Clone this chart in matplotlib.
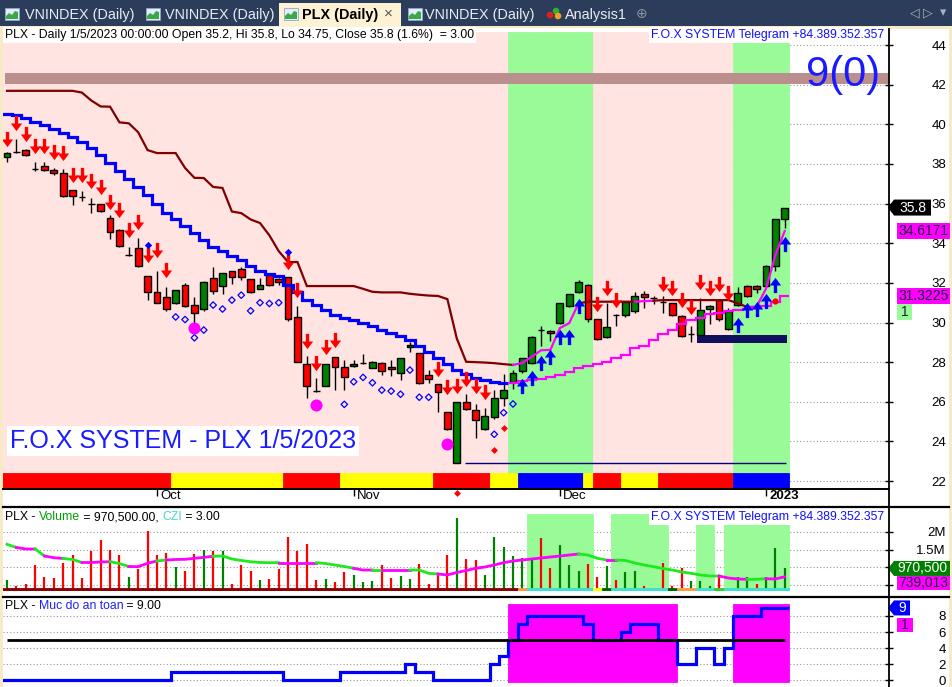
#!/usr/bin/env python3
import numpy as np
import matplotlib
matplotlib.use("Agg")
import matplotlib.pyplot as plt
from matplotlib.patches import Rectangle, Polygon, Circle
from matplotlib.transforms import ScaledTranslation

### setup ###
plt.rcParams["font.family"] = ["Liberation Sans", "DejaVu Sans"]
W, H = 952, 687

### data : PLX daily, 84 sessions up to 1/5/2023 ###
opens = [38.35, 38.62, 38.70, 37.73, 37.90, 37.69, 37.53, 36.68, 36.35, 36.00,
         35.98, 35.29, 34.67, 33.42, 33.74, 32.35, 31.52, 31.30, 31.00, 31.90,
         30.88, 30.67, 32.24, 31.86, 32.58, 32.68, 32.18, 31.71, 32.38, 32.20,
         32.28, 30.26, 27.89, 26.56, 26.81, 28.24, 27.77, 27.80, 27.96, 27.72,
         27.97, 27.77, 27.46, 28.75, 28.44, 27.35, 26.88, 25.47, 22.90, 25.97,
         25.57, 24.61, 25.25, 26.17, 27.00, 27.55, 27.94, 29.60, 29.57, 29.96,
         30.85, 31.56, 31.89, 30.16, 29.26, 30.40, 30.37, 30.57, 31.46, 31.25,
         31.05, 30.97, 30.34, 29.42, 29.37, 30.67, 31.13, 29.65, 30.88, 31.86,
         31.86, 31.84, 32.85, 35.20]
closes = [38.55, 38.62, 38.45, 37.73, 37.70, 37.53, 36.40, 36.40, 36.35, 36.00,
          35.64, 34.58, 33.87, 33.42, 32.86, 31.52, 30.97, 30.67, 31.64, 30.83,
          30.48, 32.06, 31.60, 32.48, 32.28, 32.28, 31.52, 31.88, 31.88, 32.06,
          30.16, 28.02, 26.81, 26.56, 27.89, 27.77, 27.26, 27.90, 27.96, 28.02,
          27.57, 27.63, 28.19, 28.86, 26.93, 27.13, 26.48, 24.61, 25.97, 25.62,
          25.08, 25.29, 26.17, 26.62, 27.44, 28.19, 29.28, 29.60, 29.47, 30.97,
          31.42, 32.02, 30.16, 29.15, 29.76, 30.40, 31.04, 31.34, 31.30, 31.25,
          31.05, 30.38, 29.31, 29.42, 30.62, 30.85, 30.16, 30.58, 31.47, 31.34,
          31.68, 32.86, 35.20, 35.80]
highs = [38.60, 39.25, 38.75, 38.08, 38.10, 37.78, 37.75, 36.70, 36.63, 36.30,
         36.00, 35.45, 34.70, 33.80, 34.25, 32.35, 32.60, 31.80, 31.66, 32.00,
         31.30, 32.10, 32.82, 32.50, 32.62, 32.82, 32.20, 32.24, 32.48, 32.25,
         32.30, 30.83, 28.30, 27.18, 27.92, 28.26, 28.10, 28.10, 28.40, 28.05,
         28.00, 28.10, 28.20, 29.04, 28.46, 27.60, 26.90, 25.50, 26.00, 26.39,
         25.90, 25.70, 26.60, 27.40, 27.60, 28.22, 29.30, 29.80, 29.60, 31.00,
         31.45, 32.17, 31.92, 30.20, 30.97, 30.42, 31.06, 31.54, 31.60, 31.33,
         31.33, 31.00, 30.36, 29.82, 31.25, 30.90, 31.15, 30.75, 31.80, 31.88,
         31.90, 32.90, 35.22, 35.80]
lows = [38.10, 38.55, 38.42, 37.66, 37.65, 37.45, 36.35, 35.93, 36.14, 35.51,
        35.58, 34.23, 33.80, 33.35, 32.80, 31.13, 30.97, 30.60, 30.95, 30.80,
        29.96, 30.60, 31.43, 31.45, 31.94, 32.15, 31.50, 31.68, 31.85, 31.90,
        30.10, 28.00, 26.18, 26.50, 26.78, 26.62, 26.57, 27.78, 27.90, 27.70,
        27.35, 27.30, 27.10, 28.50, 26.90, 26.97, 25.50, 24.58, 22.90, 25.60,
        24.16, 24.58, 25.15, 25.78, 26.67, 27.46, 27.90, 28.80, 29.05, 29.90,
        30.80, 31.50, 30.05, 29.10, 29.20, 29.80, 30.30, 30.50, 30.75, 30.93,
        30.49, 30.35, 29.28, 29.03, 29.35, 29.90, 30.10, 29.60, 30.85, 31.30,
        31.48, 31.80, 32.62, 34.75]

# upper trailing line, flag 0 = dark red, 1 = magenta
upper_stop = [41.69, 41.69, 41.69, 41.69, 41.69, 41.69, 41.69, 41.69, 41.60, 41.20,
              40.90, 40.89, 40.10, 40.05, 39.60, 38.70, 38.55, 38.55, 38.55, 37.80,
              37.30, 37.29, 36.84, 36.79, 35.60, 35.52, 35.20, 35.02, 34.40, 33.60,
              33.05, 33.05, 31.84, 31.84, 31.84, 31.84, 31.84, 31.84, 31.70, 31.55,
              31.52, 31.52, 31.52, 31.45, 31.40, 31.36, 31.34, 31.18, 29.20, 28.02,
              28.00, 27.98, 27.95, 27.90, 27.86, 27.96, 28.27, 28.60, 28.62, 29.72,
              29.97, 30.97, 31.05, 31.05, 31.05, 31.05, 31.05, 31.05, 31.08, 31.10,
              31.13, 31.13, 31.13, 31.13, 31.13, 31.13, 31.13, 31.13, 30.97, 30.78,
              30.80, 31.70, 33.40, 34.6171]
upper_flag = "0" * 55 + "1" * 7 + "0" * 6 + "1" * 2 + "0" * 10 + "1" * 4

# lower trailing line, blue first then magenta
lower_stop = [40.54, 40.47, 40.32, 40.11, 39.96, 39.76, 39.56, 39.36, 39.11, 38.80,
              38.45, 38.05, 37.64, 37.24, 36.84, 36.43, 35.98, 35.52, 35.22, 34.87,
              34.51, 34.16, 33.81, 33.61, 33.35, 33.15, 32.85, 32.60, 32.45, 32.35,
              31.89, 31.54, 31.13, 30.88, 30.63, 30.38, 30.23, 30.13, 29.97, 29.82,
              29.62, 29.47, 29.32, 29.12, 28.81, 28.51, 28.21, 27.91, 27.60, 27.40,
              27.20, 27.10, 27.00, 26.95, 26.95, 27.05, 27.10, 27.15, 27.25, 27.35,
              27.50, 27.70, 27.80, 27.90, 28.00, 28.21, 28.36, 28.71, 28.81, 29.12,
              29.42, 29.62, 29.92, 30.13, 30.23, 30.43, 30.48, 30.58, 30.63, 30.68,
              30.73, 30.83, 31.03, 31.3225]
lower_blue_n = 54

# signals
sell_idx = [0, 1, 2, 3, 4, 5, 6, 7, 8, 9, 10, 11, 12, 13, 14, 15, 16, 17,
            30, 31, 32, 33, 34, 35, 46, 47, 48, 49, 50, 51,
            63, 64, 65, 70, 71, 72, 73, 74, 75, 76, 77]
sell_px = [39.28, 40.09, 39.53, 38.90, 38.90, 38.60, 38.53, 37.42, 37.42, 37.16,
           36.84, 36.10, 35.68, 34.67, 35.07, 33.40, 33.66, 32.65,
           33.03, 31.64, 29.09, 27.98, 28.76, 29.12, 27.65, 26.77, 26.82, 27.15, 26.82, 26.47,
           30.91, 31.74, 31.16, 31.92, 31.76, 31.13, 30.76, 32.04, 31.74, 31.92, 31.51]
buy_idx = [55, 56, 57, 58, 59, 60, 61, 78, 79, 80, 81, 82, 83]
buy_px = [26.80, 27.20, 27.96, 28.26, 29.27, 29.27, 30.81, 29.87, 30.63, 30.66, 31.11, 31.87, 33.98]
hollow_idx = [18, 19, 20, 21, 22, 23, 24, 25, 26, 27, 28, 29,
              36, 37, 38, 39, 40, 41, 42, 43, 44, 45, 52, 53, 54]
hollow_px = [30.28, 30.15, 29.23, 29.62, 30.88, 30.68, 31.13, 31.38, 30.59, 31.00, 30.96, 31.00,
             25.87, 27.01, 27.23, 26.96, 26.59, 26.54, 26.38, 27.60, 26.23, 26.23, 24.36, 25.45, 25.89]
blue_dot_idx = [15, 30]
blue_dot_px = [33.91, 33.57]
big_dot_idx = [20, 33, 47]
big_dot_px = [29.72, 25.84, 23.87]
red_mark_idx = [52, 53, 48]
red_mark_px = [23.57, 24.69, 21.40]
red_dot_idx = [82]
red_dot_px = [31.08]

zones = "P" * 54 + "G" * 9 + "P" * 15 + "G" * 6
trend = "R" * 18 + "Y" * 12 + "R" * 6 + "Y" * 10 + "R" * 6 + "Y" * 3 + "B" * 7 + "Y" + "R" * 3 + "Y" * 4 + "R" * 8 + "B" * 6
top_band = (42.03, 42.59)
support_px = 22.91
box_lo, box_hi, box_from = 28.98, 29.37, 74

price_ticks = list(range(22, 45, 2))
month_idx = [16, 37, 59, 81]
month_lbl = ["Oct", "Nov", "Dec", "2023"]

# volume pane (thousand shares)
volume = [648, 480, 536, 1067, 723, 696, 1131, 1346, 696, 1458,
          1765, 1486, 1346, 723, 947, 2017, 1346, 1411, 1003, 899,
          1374, 1486, 1458, 1458, 536, 1067, 899, 648, 668, 955,
          1858, 1458, 1654, 648, 668, 601, 880, 788, 601, 628,
          1067, 696, 760, 668, 1095, 536, 816, 1346, 2372, 1235,
          1207, 788, 1858, 1561, 1318, 1271, 1207, 1813, 975, 1626,
          1067, 899, 1095, 723, 1039, 648, 880, 899, 480, 388,
          1115, 480, 992, 620, 620, 480, 740, 416, 740, 740,
          536, 740, 1534, 970.5]
vol_dir = ("GRRRRRRRRR" "RRRGRRRRGR" "RGRGRRRGRR" "RRRRGRRGGG" "RRGGRRRRGR"
           "RGGGGGGRRG" "GGRRGRGGRR" "RRRGGGRGGG" "RGGG")
vol_ma = [1645, 1556, 1514, 1514, 1318, 1271, 1249, 1221, 1137, 1137,
          1151, 1159, 1109, 1025, 1020, 1115, 1179, 1207, 1221, 1226,
          1254, 1282, 1310, 1318, 1235, 1193, 1159, 1137, 1131, 1131,
          1131, 1131, 1131, 1131, 1109, 1067, 1025, 975, 927, 927,
          927, 927, 927, 927, 927, 835, 816, 788, 858, 913,
          975, 1011, 1067, 1131, 1179, 1207, 1235, 1263, 1291, 1318,
          1346, 1374, 1346, 1254, 1207, 1207, 1193, 1123, 1067, 1020,
          969, 927, 872, 835, 788, 760, 760, 704, 676, 668,
          668, 684, 676, 739.013]
vol_ma_flag = ("GGMMGMMGGM" "MMGGMMMGMM" "MMMGGGGGGG" "MMMMGGGGMM" "GMMMGGGMMM"
               "MMMMMMMMMM" "MMGGGMGGGG" "GGGGGGGMMM" "GGMM")
czi = "D" * 55 + "O" + "T" * 7 + "Y" + "K" + "T" * 6 + "K" + "O" * 2 + "T" * 2 + "L" + "T" * 7
czi_zone_top = [2490 if i < 72 else 2210 for i in range(84)]
vol_ticks = [500, 1000, 1500, 2000]
vol_lbl = ["", "", "1.5M", "2M"]

# safety pane ("Muc do an toan")
safety = ([0] * 18 + [1] * 12 + [0] * 6 + [1] * 7 + [2] + [1] * 2 + [0] * 6 +
          [2, 3, 5, 7] + [8] * 6 + [7] + [5] * 3 + [6] + [7] * 3 + [5] * 2 +
          [2] * 2 + [4] * 2 + [2, 4] + [8] * 3 + [9] * 3)
safe_zone = "N" * 54 + "M" * 18 + "N" * 6 + "M" * 6
safe_level = 5
safe_ticks = [0, 2, 4, 6, 8]

n = len(closes)
idx = np.arange(n)
edges = np.arange(n + 1) - 0.5

RED, GRN, BLU, MAG, DKRED = "#ff0000", "#008000", "#0000ff", "#ff00ff", "#800000"
XL = (-0.427, 94.13)

fig = plt.figure(figsize=(W / 100, H / 100), dpi=100)
fig.patch.set_facecolor("white")


def pane(x0, y0, x1, y1, z=2):
    a = fig.add_axes([x0 / W, 1 - y1 / H, (x1 - x0) / W, (y1 - y0) / H], zorder=z)
    for s in a.spines.values():
        s.set_visible(False)
    a.set_xlim(*XL)
    return a


def right_axis(a, ticks, labels):
    a.set_yticks(ticks)
    a.set_yticklabels(labels)
    a.yaxis.tick_right()
    a.tick_params(axis="y", direction="inout", length=6, width=1, pad=38, labelsize=9.5)
    for t in a.get_yticklabels():
        t.set_horizontalalignment("right")
    for t in ticks:
        a.axhline(t, color="#9a9a9a", lw=0.8, ls=(0, (1, 2)), zorder=0.5)


def draw_runs(a, y, flags, colors, lw, z):
    seg = [flags[i + 1] for i in range(len(y) - 1)]
    start = 0
    for i in range(1, len(seg) + 1):
        if i == len(seg) or seg[i] != seg[start]:
            a.plot(idx[start:i + 1], y[start:i + 1], color=colors[seg[start]], lw=lw,
                   zorder=z, solid_joinstyle="miter")
            start = i


### background / tabs ###
bg = fig.add_axes([0, 0, 1, 1], zorder=0)
bg.set_xlim(0, W); bg.set_ylim(H, 0); bg.axis("off")
bg.add_patch(Rectangle((0, 0), W, 27, fc="#2c3c5b", ec="none"))
bg.add_patch(Rectangle((0, 26), W, 3, fc="#f7eac6", ec="none"))
bg.add_patch(Rectangle((0, 26), 3, H, fc="#f7eac6", ec="none"))
bg.add_patch(Rectangle((949, 26), 3, H, fc="#f7eac6", ec="none"))
bg.add_patch(Rectangle((279, 3), 122, 25, fc="#fdf2d4", ec="none"))


def tab_icon(x):
    bg.add_patch(Rectangle((x, 8), 14, 12, fc="#e4eefa", ec="#8fa6c9", lw=0.6))
    bg.add_patch(Polygon([(x + 1, 19), (x + 1, 16), (x + 4, 13), (x + 7, 15), (x + 10, 11),
                          (x + 13, 12), (x + 13, 19)], fc="#3aa845", ec="none"))


tabs = [(5, 25, "VNINDEX (Daily)"), (146, 165, "VNINDEX (Daily)"), (408, 425, "VNINDEX (Daily)")]
for ix, tx, s in tabs:
    tab_icon(ix)
    bg.text(tx, 15, s, color="#e8ecf3", fontsize=10.4, va="center")
tab_icon(284)
bg.text(302, 15, "PLX (Daily)", color="black", fontsize=10.4, fontweight="bold", va="center")
bg.text(388, 14, "×", color="#555555", fontsize=11, va="center", ha="center")
for cx, cy, c in [(550, 15, "#e02020"), (556, 11, "#30b030"), (558, 16, "#f0a020")]:
    bg.add_patch(Circle((cx, cy), 3.3, fc=c, ec="none"))
bg.text(565, 15, "Analysis1", color="#e8ecf3", fontsize=10.4, va="center")
bg.text(642, 14, "⊕", color="#8a93a6", fontsize=10, va="center", ha="center", family="DejaVu Sans")
for x, s in [(915, "◁"), (928, "▷"), (943, "▾")]:
    bg.text(x, 13, s, color="#aab2c2", fontsize=9, va="center", ha="center", family="DejaVu Sans")

### price pane ###
ax = pane(3, 28, 889, 489)
ax.set_ylim(21.60, 44.86)
right_axis(ax, price_ticks, [str(t) for t in price_ticks])
zone_col = {"P": "#ffe4e1", "G": "#98fb98"}
zc = [zone_col[z] for z in zones]
ax.bar(idx, 44.66 - 21.60, bottom=21.60, width=1.0, color=zc, edgecolor=zc, lw=0.6, zorder=1)
ax.axhspan(*top_band, xmin=0.002, color="#bc8f8f", zorder=2, lw=0)
trend_col = {"R": RED, "Y": "#ffff00", "B": BLU}
tc = [trend_col[t] for t in trend]
ax.bar(idx, 22.41 - 21.60, bottom=21.60, width=1.0, color=tc, edgecolor=tc, lw=0.6, zorder=2)

ax.hlines(support_px, int(np.argmin(lows)) + 0.9, n - 0.9, color="#000080", lw=1, zorder=3)
ax.fill_between([box_from - 0.4, n - 0.8], box_lo, box_hi, color="#10105e", lw=0, zorder=3)

ax.vlines(idx, lows, highs, color="black", lw=1.0, zorder=4)
o, c = np.array(opens), np.array(closes)
body_col = [GRN if cc > oo else (RED if cc < oo else "black") for oo, cc in zip(o, c)]
ax.bar(idx, np.abs(c - o), bottom=np.minimum(o, c), width=0.72, color=body_col,
       edgecolor="black", lw=1.0, zorder=5)

draw_runs(ax, upper_stop, upper_flag, {"0": DKRED, "1": MAG}, 1.6, 6)
ax.stairs(lower_stop[:lower_blue_n], edges[:lower_blue_n + 1], baseline=None, color=BLU, lw=2.3, zorder=6)
ax.stairs(lower_stop[lower_blue_n:], edges[lower_blue_n:], baseline=None, color=MAG, lw=1.6, zorder=6)

down_arrow = [(-0.11, 0.5), (0.11, 0.5), (0.11, 0.0), (0.37, 0.0), (0.0, -0.5), (-0.37, 0.0), (-0.11, 0.0)]
up_arrow = [(x, -y) for x, y in down_arrow]
ax.scatter(sell_idx, sell_px, marker=down_arrow, s=120, c=RED, linewidths=0, zorder=7)
ax.scatter(buy_idx, buy_px, marker=up_arrow, s=120, c=BLU, linewidths=0, zorder=7)
ax.scatter(hollow_idx, hollow_px, marker="D", s=11, facecolors="none", edgecolors=BLU, linewidths=0.9, zorder=7)
ax.scatter(blue_dot_idx, blue_dot_px, marker="D", s=14, c=BLU, linewidths=0, zorder=7)
ax.scatter(big_dot_idx, big_dot_px, marker="o", s=75, c=MAG, linewidths=0, zorder=7)
ax.scatter(red_mark_idx, red_mark_px, marker="D", s=12, c=RED, linewidths=0, zorder=7, clip_on=False)
ax.scatter(red_dot_idx, red_dot_px, marker="o", s=20, c=RED, linewidths=0, zorder=7)

ax.set_xticks(month_idx, month_lbl)
ax.tick_params(axis="x", direction="out", length=5, width=1, pad=-4.5, labelsize=9.5)
for lab in ax.get_xticklabels():
    lab.set_horizontalalignment("left")
    lab.set_transform(lab.get_transform() + ScaledTranslation(0.035, 0, fig.dpi_scale_trans))
ax.get_xticklabels()[-1].set_fontweight("bold")

### volume pane ###
av = pane(3, 507, 889, 591)
av.set_ylim(341, 2687)
right_axis(av, vol_ticks, vol_lbl)
av.tick_params(axis="x", bottom=False, labelbottom=False)
zcol = [("#98fb98" if z == "T" else "none") for z in czi]
av.bar(idx, np.array(czi_zone_top) - 341, bottom=341, width=1.0, color=zcol, edgecolor=zcol, lw=0.6, zorder=1)
av.vlines(idx, 0, volume, colors=[GRN if d == "G" else RED for d in vol_dir], lw=1.6, zorder=3)
draw_runs(av, vol_ma, vol_ma_flag, {"G": "#1ee81e", "M": MAG}, 2.0, 4)
czi_col = {"D": "#8b0000", "O": "#ff9a40", "T": "#40e0d0", "Y": "#ffff00", "K": "#006400", "L": "#32cd32"}
cc_ = [czi_col[z] for z in czi]
av.bar(idx, 84, bottom=341, width=1.0, color=cc_, edgecolor=cc_, lw=0.6, zorder=5)

### safety pane ###
asf = pane(3, 597, 889, 687)
asf.set_ylim(-0.83, 10.36)
right_axis(asf, safe_ticks, [str(t) for t in safe_ticks])
asf.tick_params(axis="x", bottom=False, labelbottom=False)
mz = [(MAG if z == "M" else "none") for z in safe_zone]
asf.bar(idx, 9.66, bottom=-0.17, width=1.0, color=mz, edgecolor=mz, lw=0.6, zorder=1)
asf.stairs(safety, edges, baseline=None, color=BLU, lw=2.3, zorder=3)
asf.hlines(safe_level, 0, n - 1, color="black", lw=2.0, zorder=4)

### foreground: frames, texts, value tags ###
fg = fig.add_axes([0, 0, 1, 1], zorder=10)
fg.set_xlim(0, W); fg.set_ylim(H, 0); fg.axis("off")
fg.plot([889, 889], [29, 687], color="black", lw=1.3)
fg.plot([3, 889], [489, 489], color="black", lw=1.4)
fg.plot([3, 949], [506.5, 506.5], color="black", lw=1.6)
fg.plot([3, 949], [596.5, 596.5], color="black", lw=1.6)


def ypx(a, v):
    return H - a.transData.transform((0, v))[1]


def tag(a, v, s, fc, tcol, x0, x1, arrow=False, dy=0, h=16):
    y = ypx(a, v) + dy
    if arrow:
        pts = [(x0 - 6, y), (x0, y - h / 2), (x1, y - h / 2), (x1, y + h / 2), (x0, y + h / 2)]
    else:
        pts = [(x0, y - h / 2), (x1, y - h / 2), (x1, y + h / 2), (x0, y + h / 2)]
    fg.add_patch(Polygon(pts, closed=True, fc=fc, ec="none"))
    fg.text((x0 + x1) / 2, y, s, color=tcol, fontsize=10, ha="center", va="center")


tag(ax, closes[-1], "35.8", "black", "white", 894, 931, arrow=True)
tag(ax, upper_stop[-1], "34.6171", MAG, "#202040", 897, 950)
tag(ax, lower_stop[-1], "31.3225", MAG, "#202040", 897, 950)
tag(ax, lower_stop[-1], "1", "#98fb98", "#202040", 897, 912, dy=16)
tag(av, volume[-1], "970,500", GRN, "white", 894, 950, arrow=True, h=15)
tag(av, vol_ma[-1], "739,013", MAG, "#202040", 897, 950, dy=6.5, h=14)
tag(asf, safety[-1], "9", BLU, "white", 894, 910, arrow=True, h=15)
tag(asf, safety[-1], "1", MAG, "#202040", 897, 913, dy=17, h=14)

r = fig.canvas.get_renderer()


def multicolor(x, y, parts, size=8.8):
    for s, col in parts:
        t = fg.text(x, y, s, color=col, fontsize=size, va="center", ha="left")
        x += t.get_window_extent(r).width


white = dict(fc="white", ec="none", pad=1.5)
fg.text(5, 35, "PLX - Daily 1/5/2023 00:00:00 Open 35.2, Hi 35.8, Lo 34.75, Close 35.8 (1.6%)  = 3.00",
        fontsize=8.8, va="center", color="black", bbox=white)
fg.text(651, 35, "F.O.X SYSTEM Telegram +84.389.352.357", fontsize=8.8, va="center", color="#1010ff", bbox=white)
fg.text(806, 75, "9(0)", fontsize=30, va="center", color="#1a1aff")
fg.text(10, 441, "F.O.X SYSTEM - PLX 1/5/2023", fontsize=18, va="center", color="#1a1aff",
        bbox=dict(fc="white", ec="none", pad=2))
multicolor(5, 517, [("PLX - ", "black"), ("Volume", "#00a000"), (" = 970,500.00, ", "black"),
                    ("CZI", "#40d8d0"), (" = 3.00", "black")])
fg.text(651, 517, "F.O.X SYSTEM Telegram +84.389.352.357", fontsize=8.8, va="center", color="#1010ff", bbox=white)
multicolor(5, 606, [("PLX - ", "black"), ("Muc do an toan", "#2020ff"), (" = 9.00", "black")])

fig.savefig("out.png", dpi=100)
